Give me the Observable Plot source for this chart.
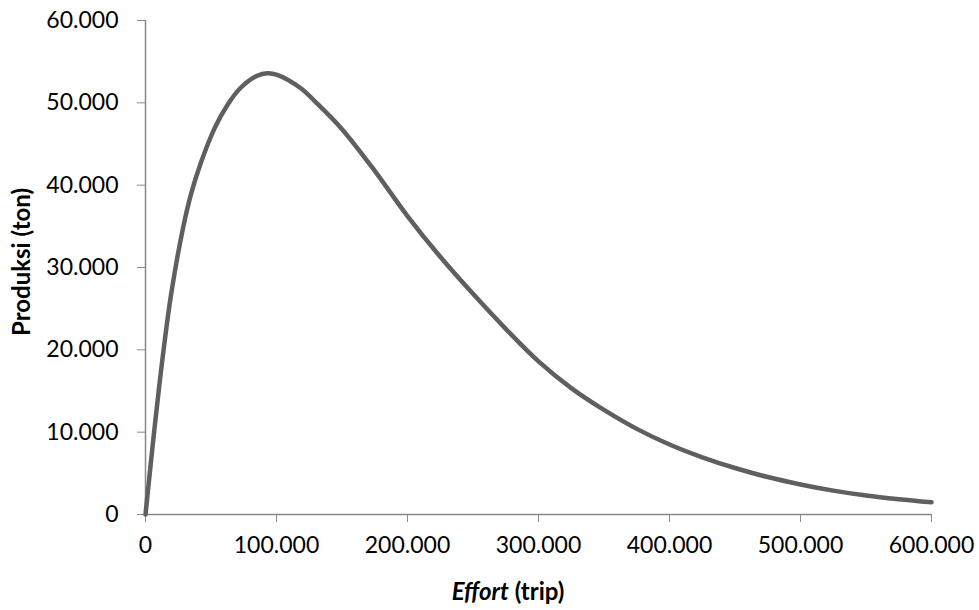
<!DOCTYPE html>
<html><head><meta charset="utf-8">
<script src="https://cdn.jsdelivr.net/npm/d3@7"></script>
<script src="https://cdn.jsdelivr.net/npm/@observablehq/plot@0.6"></script>
<style>body{margin:0;background:#fff} svg{display:block}</style>
</head><body><div id="chart"></div>
<script>
const effort = [0, 1800, 6900, 12800, 19600, 28800, 34900, 42000, 52700, 62800, 72500, 85300, 92900, 100500, 118300, 131100, 150000, 175000, 200000, 225000, 250000, 275000, 300000, 325000, 350000, 375000, 400000, 425000, 450000, 475000, 500000, 525000, 550000, 575000, 600000];
const produksi = [0, 2800, 10500, 18700, 26800, 34900, 39000, 42600, 46900, 49800, 51800, 53300, 53600, 53400, 51800, 49900, 46800, 41740, 36250, 31300, 26800, 22550, 18600, 15350, 12700, 10400, 8500, 6950, 5650, 4550, 3650, 2900, 2300, 1850, 1480];
const xTicks = [0, 100000, 200000, 300000, 400000, 500000, 600000];
const yTicks = [0, 10000, 20000, 30000, 40000, 50000, 60000];
const xTitleItalic = "Effort";
const xTitleRest = " (trip)";
const yTitle = "Produksi (ton)";

const data = effort.map((e, i) => ({effort: e, produksi: produksi[i]}));
const fmt = d => d3.format(",")(d).replace(/,/g, ".");

const plot = Plot.plot({
  width: 979, height: 610,
  marginLeft: 145, marginRight: 48, marginTop: 20, marginBottom: 96,
  style: {fontFamily: "Lato", fontSize: "23px", color: "#000", background: "#fff"},
  x: {domain: [0, 600000]},
  y: {domain: [0, 60000]},
  marks: [
    Plot.axisX({ticks: xTicks, tickFormat: fmt, tickSize: 8, tickPadding: 14, stroke: "#898989", fill: "#000", label: null}),
    Plot.axisY({ticks: yTicks, tickFormat: fmt, tickSize: 8, tickPadding: 19, stroke: "#898989", fill: "#000", label: null}),
    Plot.ruleY([0], {stroke: "#898989", strokeWidth: 1.5}),
    Plot.ruleX([0], {stroke: "#898989", strokeWidth: 1.5}),
    Plot.line(data, {x: "effort", y: "produksi", stroke: "#5f5f5f", strokeWidth: 4.5, curve: "catmull-rom"})
  ]
});

const svg = d3.select(plot);
const xt = svg.append("text")
  .attr("x", 508).attr("y", 600)
  .attr("text-anchor", "middle")
  .attr("font-family", "Lato").attr("font-size", 24).attr("font-weight", "bold").attr("fill", "#000");
xt.append("tspan").attr("font-style", "italic").text(xTitleItalic);
xt.append("tspan").text(xTitleRest);

svg.append("text")
  .attr("transform", "translate(30,262) rotate(-90)")
  .attr("text-anchor", "middle")
  .attr("font-family", "Lato").attr("font-size", 24).attr("font-weight", "bold").attr("fill", "#000")
  .text(yTitle);

document.getElementById("chart").appendChild(plot);
</script>
</body></html>
